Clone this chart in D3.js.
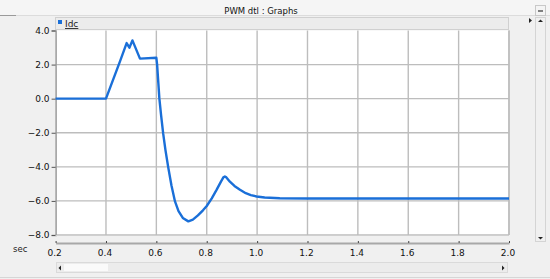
<!DOCTYPE html>
<html>
<head>
<meta charset="utf-8">
<script src="https://cdn.jsdelivr.net/npm/d3@7"></script>
<style>
  body { margin: 0; background: #f0f0f0; }
  svg { display: block; }
  text { font-family: "DejaVu Sans", Verdana, sans-serif; }
</style>
</head>
<body>
<svg id="chart" width="550" height="279"></svg>
<script>
// Idc trace
const timeSec = [0.2, 0.4, 0.456, 0.482, 0.493, 0.505, 0.535, 0.6, 0.603, 0.608, 0.612, 0.619, 0.627, 0.636, 0.647,
  0.66, 0.674, 0.688, 0.705, 0.727, 0.745, 0.765, 0.785, 0.8, 0.82, 0.839, 0.857, 0.866, 0.872, 0.878, 0.892,
  0.91, 0.932, 0.955, 0.975, 0.998, 1.03, 1.09, 1.2, 1.4, 1.6, 1.8, 2.0];
const idc = [0, 0, 2.2, 3.26, 2.99, 3.42, 2.35, 2.4, 2.0, 0.9, 0.0, -1.0, -2.04, -3.0, -4.02,
  -5.1, -6.03, -6.6, -7.0, -7.2, -7.1, -6.85, -6.55, -6.3, -5.85, -5.35, -4.85, -4.62, -4.57, -4.62, -4.87,
  -5.12, -5.35, -5.55, -5.66, -5.74, -5.8, -5.84, -5.86, -5.86, -5.86, -5.86, -5.86];
const xTicks = [0.2, 0.4, 0.6, 0.8, 1.0, 1.2, 1.4, 1.6, 1.8, 2.0];
const yTicks = [4, 2, 0, -2, -4, -6, -8];
const seriesName = "Idc";
const title = "PWM  dtl : Graphs";

const svg = d3.select("#chart");
const plot = {left: 55.6, right: 509, top: 30.5, bottom: 235};

const x = d3.scaleLinear().domain([0.2, 2.0]).range([plot.left, plot.right]);
const y = d3.scaleLinear().domain([-8, 4]).range([plot.bottom, plot.top]);

// window chrome
svg.append("rect").attr("x", 0).attr("y", 0).attr("width", 550).attr("height", 15).attr("fill", "#f5f5f5");
svg.append("line").attr("x1", 0).attr("x2", 550).attr("y1", 15.5).attr("y2", 15.5).attr("stroke", "#dcdcdc");
svg.append("line").attr("x1", 0).attr("x2", 16).attr("y1", 15.5).attr("y2", 15.5).attr("stroke", "#9a9a9a");
svg.append("text").attr("x", 261).attr("y", 13.5).attr("text-anchor", "middle")
  .attr("font-size", 8.5).attr("fill", "#111").text(title);
svg.append("rect").attr("x", 535.5).attr("y", 5.5).attr("width", 10).attr("height", 10)
  .attr("fill", "#f4f4f4").attr("stroke", "#c8c8c8");
svg.append("line").attr("x1", 538).attr("x2", 543).attr("y1", 11).attr("y2", 11).attr("stroke", "#333").attr("stroke-width", 1.2);

// legend strip
svg.append("rect").attr("x", 55.5).attr("y", 17.5).attr("width", 453).attr("height", 12)
  .attr("fill", "#ececec").attr("stroke", "#d0d0d0");
svg.append("rect").attr("x", 58).attr("y", 20).attr("width", 4).attr("height", 4).attr("fill", "#1a6fd8");
svg.append("text").attr("x", 65).attr("y", 27).attr("font-size", 9).attr("fill", "#222")
  .attr("text-decoration", "underline").text(seriesName);
svg.append("path").attr("d", "M529,18L532,20.5L529,23Z").attr("fill", "#222");

// vertical scrollbar
svg.append("rect").attr("x", 535.5).attr("y", 17.5).attr("width", 10).attr("height", 224)
  .attr("fill", "#f0f0f0").attr("stroke", "#d4d4d4");
svg.append("path").attr("d", "M538,22L540.5,19.5L543,22Z").attr("fill", "#222");
svg.append("path").attr("d", "M538,237L540.5,239.5L543,237Z").attr("fill", "#222");

// plot area
svg.append("rect").attr("x", plot.left).attr("y", plot.top).attr("width", plot.right - plot.left)
  .attr("height", plot.bottom - plot.top).attr("fill", "#fff");

const grid = svg.append("g").attr("stroke", "#bdbdbd").attr("stroke-width", 1.4);
grid.selectAll("line.v").data(xTicks.slice(1)).enter().append("line").attr("class", "v")
  .attr("x1", d => x(d)).attr("x2", d => x(d)).attr("y1", plot.top).attr("y2", plot.bottom);
grid.selectAll("line.h").data(yTicks.slice(1)).enter().append("line").attr("class", "h")
  .attr("x1", plot.left).attr("x2", plot.right).attr("y1", d => y(d)).attr("y2", d => y(d));

// y axis
const yAxis = svg.append("g").attr("transform", `translate(${plot.left},0)`)
  .call(d3.axisLeft(y).tickValues(yTicks).tickSize(4).tickPadding(2).tickFormat(d3.format(".1f")));
yAxis.select(".domain").attr("stroke", "#9a9a9a").attr("stroke-width", 1.5);
yAxis.selectAll(".tick line").attr("stroke", "#555");
yAxis.selectAll("text").attr("font-size", 9).attr("fill", "#111")
  .attr("font-family", "DejaVu Sans, sans-serif");

// x axis under the plot
const xAxis = svg.append("g").attr("transform", "translate(0,243)")
  .call(d3.axisTop(x).tickValues(xTicks).tickSize(2).tickSizeOuter(0).tickFormat(d3.format(".1f")));
xAxis.select(".domain").attr("stroke", "#a8a8a8").attr("stroke-width", 2);
xAxis.selectAll(".tick line").attr("stroke", "#444");
xAxis.selectAll("text").attr("font-size", 9).attr("fill", "#111").attr("y", 13).attr("dx", -1.5)
  .attr("font-family", "DejaVu Sans, sans-serif");
svg.append("text").attr("x", 13).attr("y", 252).attr("font-size", 8.5).attr("fill", "#222").text("sec");

// right border of plot
svg.append("line").attr("x1", plot.right).attr("x2", plot.right).attr("y1", plot.top).attr("y2", plot.bottom)
  .attr("stroke", "#bdbdbd").attr("stroke-width", 1.4);
svg.append("line").attr("x1", plot.left).attr("x2", plot.right).attr("y1", plot.bottom + 0.5).attr("y2", plot.bottom + 0.5)
  .attr("stroke", "#cfcfcf");

// Idc trace
const line = d3.line().x((d, i) => x(timeSec[i])).y(d => y(d));
svg.append("path").datum(idc).attr("d", line).attr("fill", "none")
  .attr("stroke", "#1a6fd8").attr("stroke-width", 2.4).attr("stroke-linejoin", "round");

// horizontal scrollbar
svg.append("rect").attr("x", 56.5).attr("y", 262.5).attr("width", 451).attr("height", 10)
  .attr("fill", "#ececec").attr("stroke", "#dadada");
svg.append("rect").attr("x", 64).attr("y", 264).attr("width", 44).attr("height", 7).attr("fill", "#fafafa");
svg.append("path").attr("d", "M61,265.5L58.5,268L61,270.5Z").attr("fill", "#222");
svg.append("path").attr("d", "M502,265.5L504.5,268L502,270.5Z").attr("fill", "#222");
svg.append("line").attr("x1", 0).attr("x2", 550).attr("y1", 277.5).attr("y2", 277.5).attr("stroke", "#d6d6d6");
</script>
</body>
</html>
